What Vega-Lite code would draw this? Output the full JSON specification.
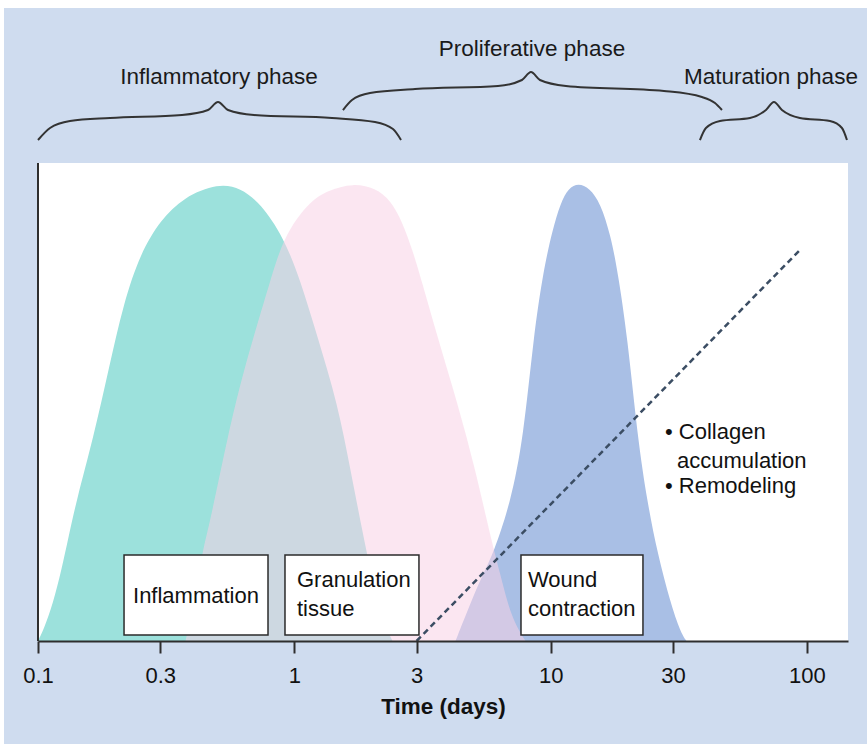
{
  "$schema": "https://vega.github.io/schema/vega-lite/v6.json",
  "width": 810,
  "height": 641,
  "autosize": {"type": "none"},
  "padding": {"left": 38, "top": 0, "right": 19, "bottom": 103},
  "background": "#cfdcef",
  "config": {"view": {"stroke": null}, "font": "Liberation Sans"},
  "datasets": {
    "margins": [
      {"day": 0.05, "day2": 0.07368, "value": -40, "value2": 150},
      {"day": 0.05, "day2": 400, "value": 138.25, "value2": 150}
    ],
    "plot": [{"day": 0.1, "day2": 144.6, "value": 0, "value2": 104.4}],
    "curves": [
      {"s": "inflammation", "day": 0.1, "value": 0},
      {"s": "inflammation", "day": 0.1051, "value": 2.4},
      {"s": "inflammation", "day": 0.1146, "value": 8.3},
      {"s": "inflammation", "day": 0.1234, "value": 15.5},
      {"s": "inflammation", "day": 0.1316, "value": 22.71},
      {"s": "inflammation", "day": 0.1414, "value": 30.79},
      {"s": "inflammation", "day": 0.1646, "value": 44.54},
      {"s": "inflammation", "day": 0.1884, "value": 59.17},
      {"s": "inflammation", "day": 0.2156, "value": 73.8},
      {"s": "inflammation", "day": 0.2511, "value": 84.72},
      {"s": "inflammation", "day": 0.3005, "value": 91.92},
      {"s": "inflammation", "day": 0.3695, "value": 96.94},
      {"s": "inflammation", "day": 0.5061, "value": 100},
      {"s": "inflammation", "day": 0.6166, "value": 98.91},
      {"s": "inflammation", "day": 0.7381, "value": 95.63},
      {"s": "inflammation", "day": 0.9075, "value": 88.21},
      {"s": "inflammation", "day": 1.057, "value": 78.82},
      {"s": "inflammation", "day": 1.231, "value": 66.38},
      {"s": "inflammation", "day": 1.474, "value": 51.97},
      {"s": "inflammation", "day": 1.656, "value": 37.34},
      {"s": "inflammation", "day": 1.862, "value": 22.71},
      {"s": "inflammation", "day": 2.018, "value": 13.32},
      {"s": "inflammation", "day": 2.208, "value": 4.59},
      {"s": "inflammation", "day": 2.415, "value": 0},
      {"s": "granulation", "day": 0.3762, "value": 0},
      {"s": "granulation", "day": 0.3935, "value": 4.59},
      {"s": "granulation", "day": 0.4191, "value": 13.32},
      {"s": "granulation", "day": 0.4423, "value": 20.52},
      {"s": "granulation", "day": 0.4709, "value": 26.42},
      {"s": "granulation", "day": 0.5487, "value": 44.54},
      {"s": "granulation", "day": 0.6334, "value": 59.17},
      {"s": "granulation", "day": 0.8073, "value": 78.82},
      {"s": "granulation", "day": 0.9075, "value": 88.21},
      {"s": "granulation", "day": 1.126, "value": 95.63},
      {"s": "granulation", "day": 1.347, "value": 98.47},
      {"s": "granulation", "day": 1.702, "value": 100},
      {"s": "granulation", "day": 2.074, "value": 98.91},
      {"s": "granulation", "day": 2.372, "value": 96.29},
      {"s": "granulation", "day": 2.642, "value": 91.48},
      {"s": "granulation", "day": 2.891, "value": 85.37},
      {"s": "granulation", "day": 3.134, "value": 78.82},
      {"s": "granulation", "day": 3.619, "value": 66.38},
      {"s": "granulation", "day": 4.331, "value": 51.97},
      {"s": "granulation", "day": 5.091, "value": 37.34},
      {"s": "granulation", "day": 5.827, "value": 22.71},
      {"s": "granulation", "day": 6.373, "value": 14.41},
      {"s": "granulation", "day": 6.786, "value": 8.3},
      {"s": "granulation", "day": 7.292, "value": 3.49},
      {"s": "granulation", "day": 7.979, "value": 0},
      {"s": "contraction", "day": 4.254, "value": 0},
      {"s": "contraction", "day": 4.867, "value": 8.3},
      {"s": "contraction", "day": 5.422, "value": 14.41},
      {"s": "contraction", "day": 5.984, "value": 19.21},
      {"s": "contraction", "day": 6.971, "value": 30.13},
      {"s": "contraction", "day": 7.837, "value": 44.54},
      {"s": "contraction", "day": 8.572, "value": 66.38},
      {"s": "contraction", "day": 9.377, "value": 81.0},
      {"s": "contraction", "day": 10.167, "value": 89.74},
      {"s": "contraction", "day": 10.924, "value": 95.63},
      {"s": "contraction", "day": 11.739, "value": 98.91},
      {"s": "contraction", "day": 12.844, "value": 100},
      {"s": "contraction", "day": 14.179, "value": 98.91},
      {"s": "contraction", "day": 15.65, "value": 95.63},
      {"s": "contraction", "day": 17.119, "value": 88.65},
      {"s": "contraction", "day": 18.231, "value": 81.0},
      {"s": "contraction", "day": 19.943, "value": 66.38},
      {"s": "contraction", "day": 21.821, "value": 44.54},
      {"s": "contraction", "day": 23.872, "value": 30.13},
      {"s": "contraction", "day": 26.113, "value": 19.21},
      {"s": "contraction", "day": 29.35, "value": 8.3},
      {"s": "contraction", "day": 32.1, "value": 1.97},
      {"s": "contraction", "day": 33.88, "value": 0}
    ],
    "collagen": [
      {"day": 3.0, "value": 0},
      {"day": 93.9, "value": 85.4}
    ],
    "axisline": [{"day": 0.1, "value": 0, "value2": 104.4}],
    "braces": [
      {"b": "inflammatory", "day": 0.1, "value": 109.42},
      {"b": "inflammatory", "day": 0.1114, "value": 112.04},
      {"b": "inflammatory", "day": 0.1333, "value": 113.57},
      {"b": "inflammatory", "day": 0.1909, "value": 114.23},
      {"b": "inflammatory", "day": 0.3646, "value": 114.88},
      {"b": "inflammatory", "day": 0.4606, "value": 115.97},
      {"b": "inflammatory", "day": 0.5038, "value": 117.72},
      {"b": "inflammatory", "day": 0.5512, "value": 115.97},
      {"b": "inflammatory", "day": 0.6961, "value": 114.88},
      {"b": "inflammatory", "day": 1.4026, "value": 114.23},
      {"b": "inflammatory", "day": 2.0643, "value": 113.35},
      {"b": "inflammatory", "day": 2.426, "value": 111.82},
      {"b": "inflammatory", "day": 2.608, "value": 109.42},
      {"b": "proliferative", "day": 1.548, "value": 115.97},
      {"b": "proliferative", "day": 1.679, "value": 118.16},
      {"b": "proliferative", "day": 1.974, "value": 119.69},
      {"b": "proliferative", "day": 2.957, "value": 120.56},
      {"b": "proliferative", "day": 6.232, "value": 121.22},
      {"b": "proliferative", "day": 7.729, "value": 122.53},
      {"b": "proliferative", "day": 8.381, "value": 124.27},
      {"b": "proliferative", "day": 9.085, "value": 122.53},
      {"b": "proliferative", "day": 11.478, "value": 121.22},
      {"b": "proliferative", "day": 27.68, "value": 120.12},
      {"b": "proliferative", "day": 38.93, "value": 118.81},
      {"b": "proliferative", "day": 43.77, "value": 117.5},
      {"b": "proliferative", "day": 46.61, "value": 115.97},
      {"b": "maturation", "day": 38.24, "value": 109.42},
      {"b": "maturation", "day": 40.36, "value": 112.04},
      {"b": "maturation", "day": 45.78, "value": 113.57},
      {"b": "maturation", "day": 59.94, "value": 114.23},
      {"b": "maturation", "day": 69.2, "value": 115.97},
      {"b": "maturation", "day": 74.35, "value": 117.72},
      {"b": "maturation", "day": 79.88, "value": 115.97},
      {"b": "maturation", "day": 93.88, "value": 114.23},
      {"b": "maturation", "day": 122.96, "value": 113.57},
      {"b": "maturation", "day": 136.96, "value": 112.04},
      {"b": "maturation", "day": 143.26, "value": 109.42}
    ],
    "phases": [
      {"label": "Inflammatory phase", "day": 0.5083, "value": 123.18},
      {"label": "Proliferative phase", "day": 8.457, "value": 129.3},
      {"label": "Maturation phase", "day": 72.38, "value": 123.18}
    ],
    "boxes": [
      {"day": 0.2166, "day2": 0.7895, "value": 1.31, "value2": 18.78},
      {"day": 0.9196, "day2": 3.064, "value": 1.31, "value2": 18.78},
      {"day": 7.662, "day2": 22.92, "value": 1.31, "value2": 18.78}
    ],
    "centerText": [
      {"label": "Inflammation", "day": 0.4134, "value": 9.83}
    ],
    "leftText": [
      {"label": "Granulation", "day": 1.0243, "value": 13.32},
      {"label": "tissue", "day": 1.0243, "value": 6.99},
      {"label": "Wound", "day": 8.158, "value": 13.32},
      {"label": "contraction", "day": 8.158, "value": 6.99},
      {"label": "• Collagen", "day": 27.93, "value": 45.65},
      {"label": "accumulation", "day": 31.11, "value": 39.31},
      {"label": "• Remodeling", "day": 27.93, "value": 33.85}
    ]
  },
  "encoding": {
    "x": {
      "field": "day",
      "type": "quantitative",
      "scale": {"type": "log", "domain": [0.1, 144.6], "nice": false},
      "axis": {
        "values": [0.1, 0.3, 1, 3, 10, 30, 100],
        "format": "~g",
        "grid": false,
        "zindex": 1,
        "domainColor": "#2e2e2e",
        "domainWidth": 2,
        "tickColor": "#2e2e2e",
        "tickWidth": 2,
        "tickSize": 12,
        "labelFont": "Liberation Sans",
        "labelFontSize": 22,
        "labelColor": "#111111",
        "labelPadding": 12,
        "labelFlush": false,
        "labelOverlap": false,
        "title": "Time (days)",
        "titleFont": "Liberation Sans",
        "titleFontSize": 22.5,
        "titleFontWeight": "bold",
        "titleColor": "#111111",
        "titlePadding": 9
      }
    },
    "y": {
      "field": "value",
      "type": "quantitative",
      "scale": {"domain": [0, 140], "nice": false, "zero": false},
      "axis": null
    }
  },
  "layer": [
    {
      "data": {"name": "margins"},
      "mark": {"type": "rect", "fill": "#ffffff", "clip": false},
      "encoding": {"x2": {"field": "day2"}, "y2": {"field": "value2"}}
    },
    {
      "data": {"name": "plot"},
      "mark": {"type": "rect", "fill": "#ffffff"},
      "encoding": {"x2": {"field": "day2"}, "y2": {"field": "value2"}}
    },
    {
      "data": {"name": "curves"},
      "transform": [{"filter": "datum.s === 'inflammation'"}],
      "mark": {"type": "area", "color": "#9ce1dc", "interpolate": "basis"}
    },
    {
      "data": {"name": "curves"},
      "transform": [{"filter": "datum.s === 'contraction'"}],
      "mark": {"type": "area", "color": "#a9bfe5", "interpolate": "basis"}
    },
    {
      "data": {"name": "curves"},
      "transform": [{"filter": "datum.s === 'granulation'"}],
      "mark": {"type": "area", "color": "#f8d1e5", "opacity": 0.54, "interpolate": "basis"}
    },
    {
      "data": {"name": "collagen"},
      "mark": {"type": "line", "color": "#3b4d63", "strokeWidth": 2.5, "strokeDash": [6, 4]}
    },
    {
      "data": {"name": "axisline"},
      "mark": {"type": "rule", "color": "#2e2e2e", "strokeWidth": 2},
      "encoding": {"y2": {"field": "value2"}}
    },
    {
      "data": {"name": "braces"},
      "mark": {"type": "line", "color": "#333333", "strokeWidth": 2, "interpolate": "monotone"},
      "encoding": {"detail": {"field": "b"}}
    },
    {
      "data": {"name": "phases"},
      "mark": {"type": "text", "align": "center", "baseline": "middle", "fontSize": 22.5, "color": "#1a1a1a", "font": "Liberation Sans"},
      "encoding": {"text": {"field": "label"}}
    },
    {
      "data": {"name": "boxes"},
      "mark": {"type": "rect", "fill": "#ffffff", "stroke": "#2b2b2b", "strokeWidth": 1.5},
      "encoding": {"x2": {"field": "day2"}, "y2": {"field": "value2"}}
    },
    {
      "data": {"name": "centerText"},
      "mark": {"type": "text", "align": "center", "baseline": "middle", "fontSize": 22, "color": "#111111", "font": "Liberation Sans"},
      "encoding": {"text": {"field": "label"}}
    },
    {
      "data": {"name": "leftText"},
      "mark": {"type": "text", "align": "left", "baseline": "middle", "fontSize": 22, "color": "#111111", "font": "Liberation Sans"},
      "encoding": {"text": {"field": "label"}}
    }
  ]
}
